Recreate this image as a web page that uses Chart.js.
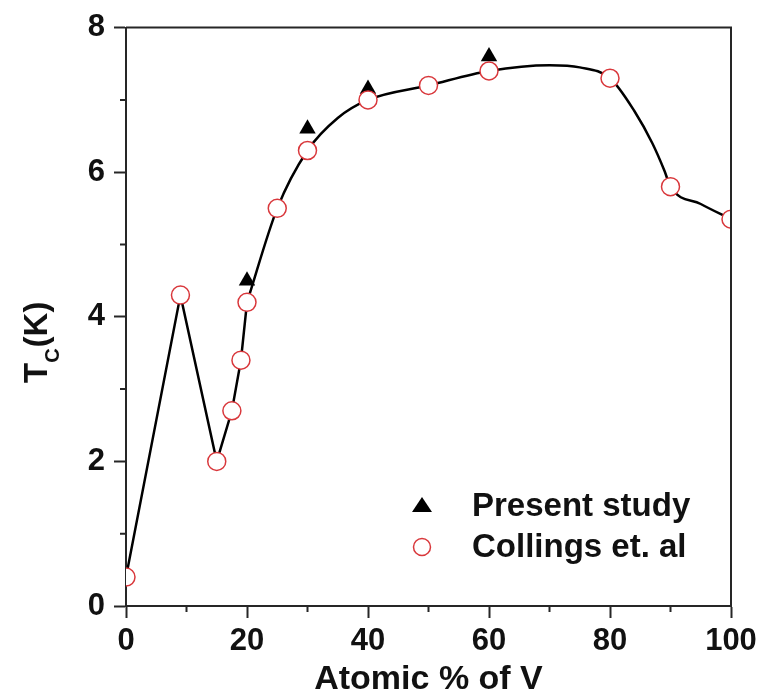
<!DOCTYPE html>
<html>
<head>
<meta charset="utf-8">
<title>Tc vs atomic % of V</title>
<script src="https://cdn.jsdelivr.net/npm/chart.js@4.4.1/dist/chart.umd.min.js"></script>
<style>
  html, body { margin: 0; padding: 0; background: #fff; }
  #wrap { position: relative; width: 769px; height: 697px; }
</style>
</head>
<body>
<div id="wrap"><canvas id="c"></canvas></div>
<script>
// values
const collingsX = [0, 9, 15, 17.5, 19, 20, 25, 30, 40, 50, 60, 80, 90, 100];
const collingsY = [0.4, 4.3, 2.0, 2.7, 3.4, 4.2, 5.5, 6.3, 7.0, 7.2, 7.4, 7.3, 5.8, 5.35];
const presentX = [20, 30, 40, 60];
const presentY = [4.5, 6.6, 7.15, 7.6];
// guide line: straight up to 20 %, smooth after that
const lineStraightX = [0, 9, 15, 17.5, 19, 20];
const lineStraightY = [0.4, 4.3, 2.0, 2.7, 3.4, 4.2];
const lineSmoothX = [20, 25, 30, 35, 40, 50, 60, 70, 75, 80, 84, 87, 89, 90, 95, 100];
const lineSmoothY = [4.2, 5.5, 6.3, 6.75, 7.0, 7.2, 7.4, 7.48, 7.45, 7.3, 6.85, 6.4, 6.02, 5.8, 5.56, 5.35];
const xTicks = [0, 20, 40, 60, 80, 100];
const xMinor = [10, 30, 50, 70, 90];
const yTicks = [0, 2, 4, 6, 8];
const yMinor = [1, 3, 5, 7];
const legendLabels = ['Present study', 'Collings et. al'];

const INK = '#111';
const AXIS = '#262626';
const RED = '#d9383c';
const FONT = '"Liberation Sans", Arial, sans-serif';

const pts = (xs, ys) => xs.map((x, i) => ({ x, y: ys[i] }));

// frame top/right, minor ticks, y title with subscript, legend
const decor = {
  id: 'decor',
  afterDraw(chart) {
    const { ctx, chartArea: a, scales } = chart;
    ctx.save();
    ctx.strokeStyle = AXIS;
    ctx.lineWidth = 2;
    ctx.beginPath();
    ctx.moveTo(a.left, a.top); ctx.lineTo(a.right, a.top); ctx.lineTo(a.right, a.bottom);
    ctx.stroke();

    ctx.beginPath();
    for (const v of xMinor) {
      const px = scales.x.getPixelForValue(v);
      ctx.moveTo(px, a.bottom); ctx.lineTo(px, a.bottom + 6);
    }
    for (const v of yMinor) {
      const py = scales.y.getPixelForValue(v);
      ctx.moveTo(a.left, py); ctx.lineTo(a.left - 6, py);
    }
    ctx.stroke();

    // y title: T_C(K)
    ctx.fillStyle = INK;
    ctx.translate(47, 383);
    ctx.rotate(-Math.PI / 2);
    ctx.textBaseline = 'alphabetic';
    ctx.textAlign = 'left';
    ctx.font = 'bold 33px ' + FONT;
    ctx.fillText('T', 0, 0);
    let w = ctx.measureText('T').width;
    ctx.font = 'bold 20px ' + FONT;
    ctx.fillText('C', w, 12);
    w += ctx.measureText('C').width + 1;
    ctx.font = 'bold 33px ' + FONT;
    ctx.fillText('(K)', w, 0);
    ctx.setTransform(1, 0, 0, 1, 0, 0);

    // legend
    const lx = 422;
    ctx.fillStyle = '#000';
    ctx.beginPath();
    ctx.moveTo(lx, 497); ctx.lineTo(lx + 10, 512); ctx.lineTo(lx - 10, 512);
    ctx.closePath();
    ctx.fill();
    ctx.beginPath();
    ctx.arc(lx, 547, 8.5, 0, Math.PI * 2);
    ctx.fillStyle = '#fff';
    ctx.fill();
    ctx.strokeStyle = RED;
    ctx.lineWidth = 1.5;
    ctx.stroke();
    ctx.fillStyle = INK;
    ctx.font = 'bold 33px ' + FONT;
    ctx.fillText(legendLabels[0], 472, 516);
    ctx.fillText(legendLabels[1], 472, 557);
    ctx.restore();
  }
};

new Chart(document.getElementById('c'), {
  type: 'scatter',
  data: {
    datasets: [
      {
        label: legendLabels[1],
        data: pts(collingsX, collingsY),
        pointStyle: 'circle',
        pointRadius: 9,
        pointBackgroundColor: '#fff',
        pointBorderColor: RED,
        pointBorderWidth: 1.5,
        clip: 0,
        order: 0,
      },
      {
        label: legendLabels[0],
        data: pts(presentX, presentY),
        pointStyle: 'triangle',
        pointRadius: 9.5,
        pointBackgroundColor: '#000',
        pointBorderColor: '#000',
        pointBorderWidth: 0,
        order: 1,
      },
      {
        label: 'line a',
        data: pts(lineStraightX, lineStraightY),
        showLine: true,
        borderColor: '#000',
        borderWidth: 2.5,
        pointRadius: 0,
        tension: 0,
        order: 2,
      },
      {
        label: 'line b',
        data: pts(lineSmoothX, lineSmoothY),
        showLine: true,
        borderColor: '#000',
        borderWidth: 2.5,
        pointRadius: 0,
        cubicInterpolationMode: 'monotone',
        order: 2,
      },
    ],
  },
  plugins: [decor],
  options: {
    responsive: true,
    maintainAspectRatio: false,
    animation: false,
    layout: { padding: { top: 21, right: 38, left: 0, bottom: 0 } },
    plugins: { legend: { display: false }, tooltip: { enabled: false } },
    scales: {
      x: {
        type: 'linear',
        min: 0, max: 100,
        afterBuildTicks: (s) => { s.ticks = xTicks.map((v) => ({ value: v })); },
        afterFit: (s) => { s.height = 91; },
        ticks: { color: INK, font: { family: FONT, size: 31, weight: 'bold' }, padding: 5, maxRotation: 0 },
        grid: { drawOnChartArea: false, drawTicks: true, tickLength: 12, tickColor: AXIS, tickWidth: 2 },
        border: { color: AXIS, width: 2 },
        title: {
          display: true, text: 'Atomic % of V', color: INK,
          font: { family: FONT, size: 34, weight: 'bold', lineHeight: 1 }, padding: 0,
        },
      },
      y: {
        type: 'linear',
        min: 0, max: 8,
        afterBuildTicks: (s) => { s.ticks = yTicks.map((v) => ({ value: v })); },
        afterFit: (s) => { s.width = 126; },
        ticks: { color: INK, font: { family: FONT, size: 31, weight: 'bold' }, padding: 9 },
        grid: { drawOnChartArea: false, drawTicks: true, tickLength: 12, tickColor: AXIS, tickWidth: 2 },
        border: { color: AXIS, width: 2 },
      },
    },
  },
});
</script>
</body>
</html>
